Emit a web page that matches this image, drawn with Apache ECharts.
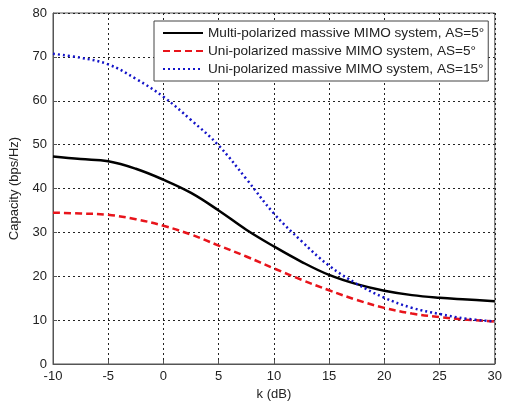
<!DOCTYPE html>
<html>
<head>
<meta charset="utf-8">
<script src="https://cdn.jsdelivr.net/npm/echarts@6/dist/echarts.min.js"></script>
<style>html,body{margin:0;padding:0;background:#fff}#c{width:505px;height:406px}</style>
</head>
<body>
<div id="c"></div>
<script>
var kValues = [-10, -7.5, -5, -2.5, 0, 2.5, 5, 7.5, 10, 12.5, 15, 17.5, 20, 22.5, 25, 27.5, 30];
var multiAS5 = [47.3, 46.7, 46.2, 44.5, 42.0, 39.0, 35.0, 30.6, 26.8, 23.3, 20.3, 18.2, 16.7, 15.7, 15.1, 14.7, 14.3];
var uniAS5 = [34.5, 34.3, 34.0, 33.0, 31.5, 29.5, 27.0, 24.5, 21.8, 19.2, 16.8, 14.6, 12.8, 11.5, 10.7, 10.1, 9.7];
var uniAS15 = [70.7, 69.8, 68.3, 65.0, 60.9, 55.6, 49.8, 42.2, 34.3, 28.0, 22.4, 18.3, 15.1, 12.8, 11.4, 10.3, 9.7];
var seriesNames = [
  'Multi-polarized massive MIMO system, AS=5°',
  'Uni-polarized massive MIMO system, AS=5°',
  'Uni-polarized massive MIMO system, AS=15°'
];
function pairs(ys){ return kValues.map(function(x,i){ return [x, ys[i]]; }); }

var font = 'Liberation Sans, Arial, sans-serif';
var chart = echarts.init(document.getElementById('c'));
chart.setOption({
  animation: false,
  backgroundColor: '#fff',
  textStyle: { fontFamily: font },
  grid: { left: 48, right: 7, top: 13, bottom: 39, show: true, borderColor: '#555', borderWidth: 1 },
  legend: {
    orient: 'vertical', left: 154, top: 21,
    itemWidth: 40, itemHeight: 14, itemGap: 4,
    padding: [5, 4, 5, 8],
    backgroundColor: '#fff', borderColor: '#444', borderWidth: 1,
    itemStyle: { opacity: 0 },
    textStyle: { fontFamily: font, fontSize: 13.6, color: '#222' },
    data: seriesNames
  },
  xAxis: {
    type: 'value', min: -10, max: 30, interval: 5,
    name: 'k (dB)', nameLocation: 'middle', nameGap: 24,
    nameTextStyle: { fontFamily: font, fontSize: 13, color: '#222' },
    axisLine: { show: true, onZero: false, lineStyle: { color: '#555', width: 1 } },
    axisTick: { show: true, inside: true, length: 4, lineStyle: { color: '#555' } },
    axisLabel: { fontFamily: font, fontSize: 13, color: '#222', margin: 6 },
    splitLine: { show: true, lineStyle: { color: '#222', type: [2, 3], width: 1 } }
  },
  yAxis: {
    type: 'value', min: 0, max: 80, interval: 10,
    name: 'Capacity (bps/Hz)', nameLocation: 'middle', nameGap: 32,
    nameTextStyle: { fontFamily: font, fontSize: 13, color: '#222' },
    axisLine: { show: true, onZero: false, lineStyle: { color: '#555', width: 1 } },
    axisTick: { show: true, inside: true, length: 4, lineStyle: { color: '#555' } },
    axisLabel: { fontFamily: font, fontSize: 13, color: '#222', margin: 6 },
    splitLine: { show: true, lineStyle: { color: '#222', type: [2, 3], width: 1 } }
  },
  series: [
    { name: seriesNames[0], type: 'line', smooth: 0.4, symbol: 'none', data: pairs(multiAS5),
      lineStyle: { color: '#000', width: 2.5, type: 'solid' }, itemStyle: { color: '#000' } },
    { name: seriesNames[1], type: 'line', smooth: 0.4, symbol: 'none', data: pairs(uniAS5),
      lineStyle: { color: '#e8141b', width: 2.5, type: [7, 4] }, itemStyle: { color: '#e8141b' } },
    { name: seriesNames[2], type: 'line', smooth: 0.4, symbol: 'none', data: pairs(uniAS15),
      lineStyle: { color: '#1414c8', width: 2.5, type: [2, 3] }, itemStyle: { color: '#1414c8' } }
  ]
});
</script>
</body>
</html>
